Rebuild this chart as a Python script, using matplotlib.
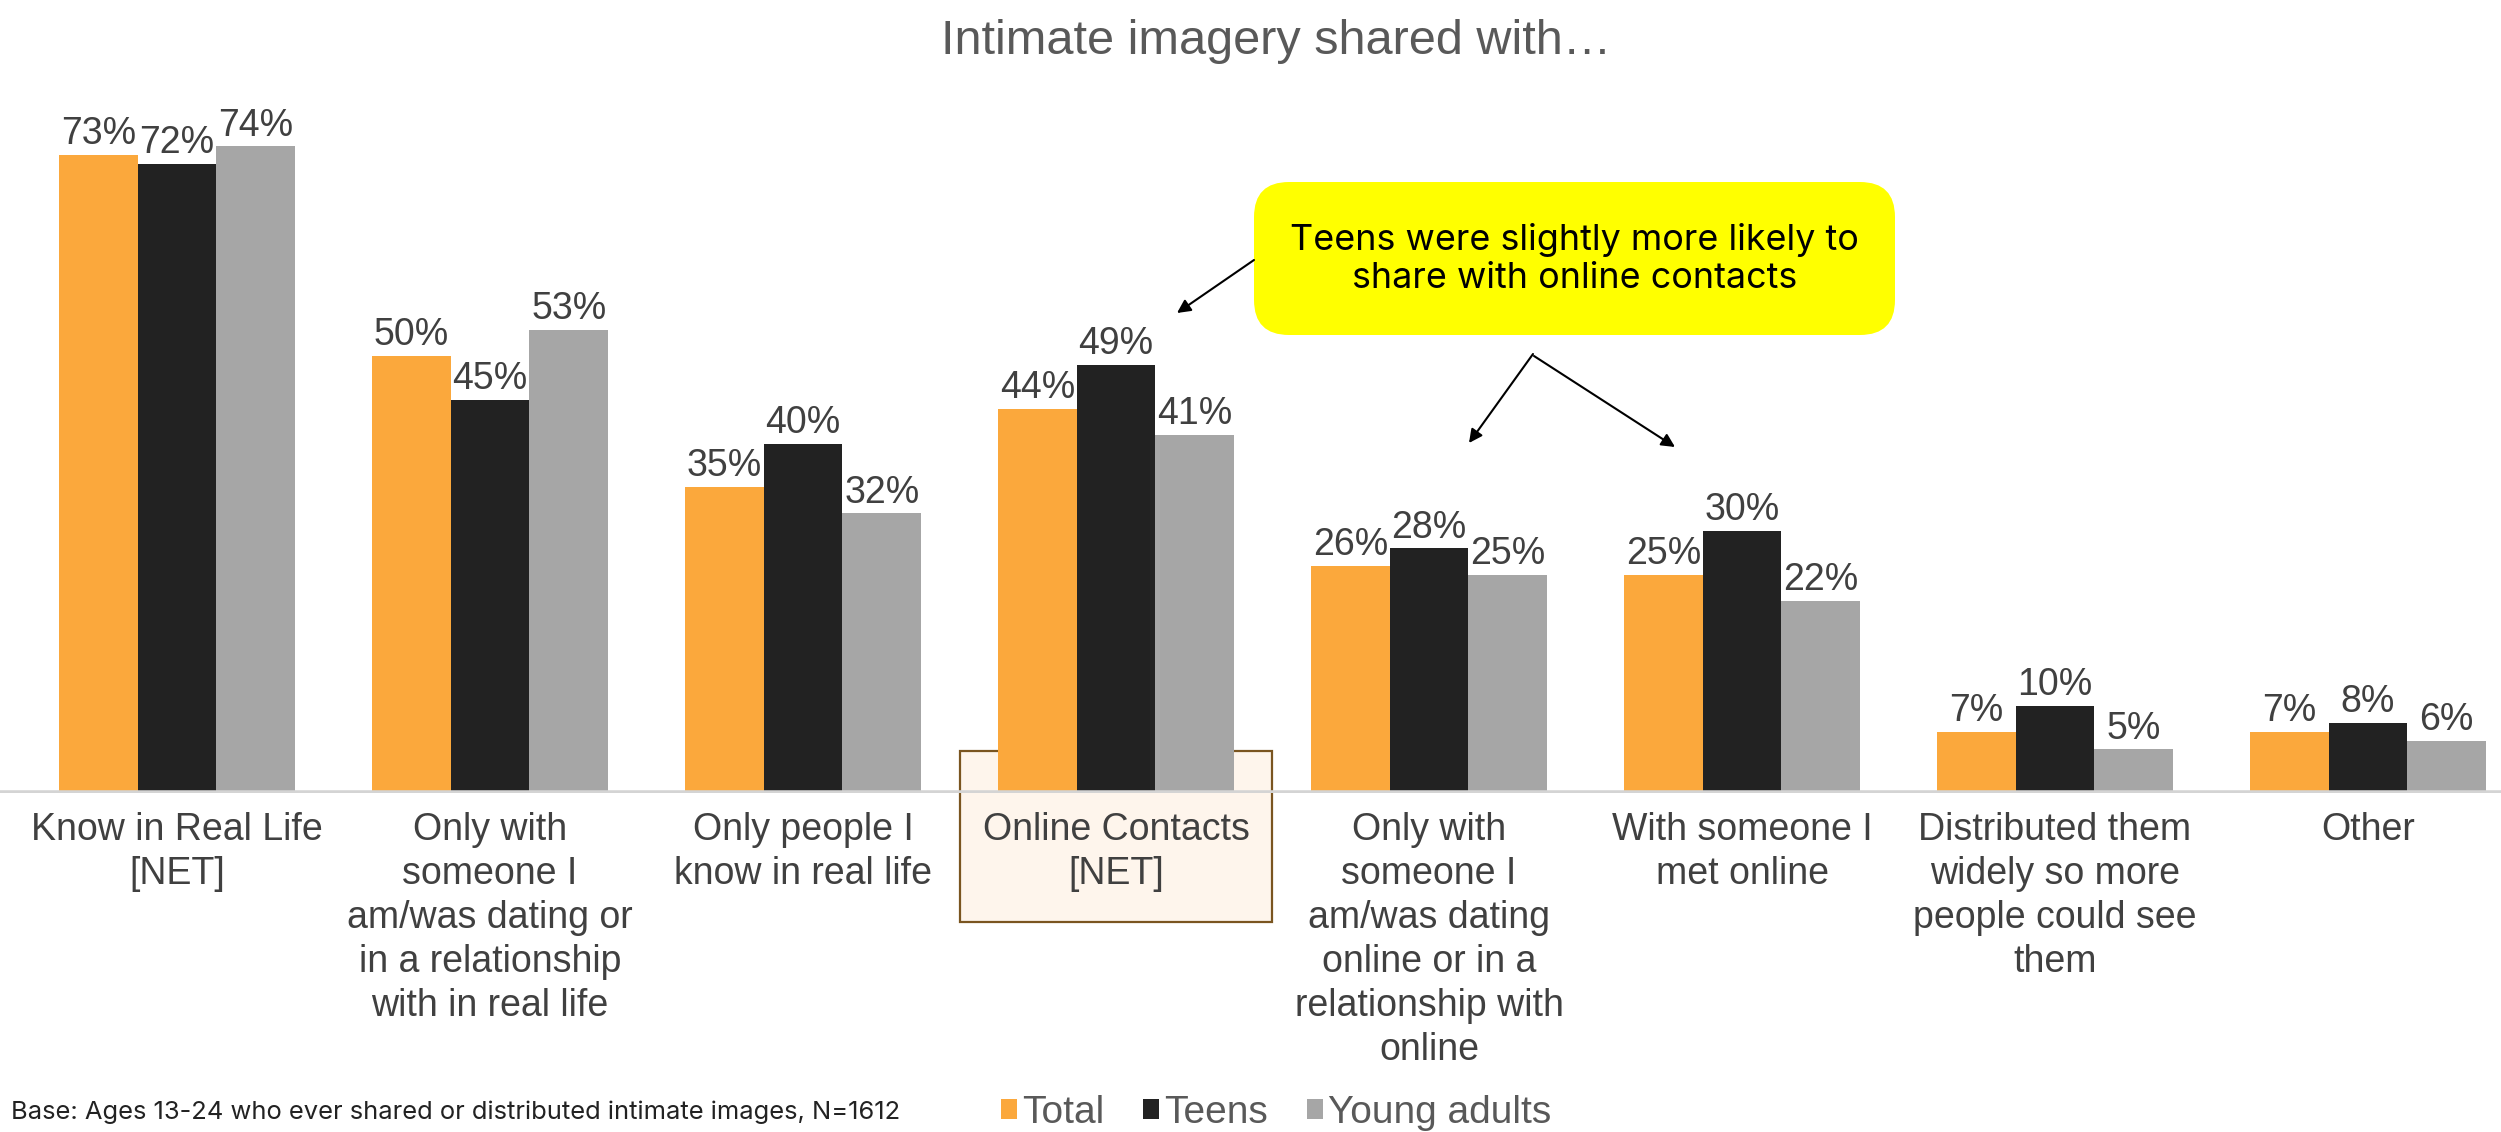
import matplotlib
matplotlib.use("Agg")
import matplotlib.pyplot as plt
import numpy as np
from matplotlib.patches import Rectangle, FancyBboxPatch, FancyArrowPatch

categories = [
    "Know in Real Life\n[NET]",
    "Only with\nsomeone I\nam/was dating or\nin a relationship\nwith in real life",
    "Only people I\nknow in real life",
    "Online Contacts\n[NET]",
    "Only with\nsomeone I\nam/was dating\nonline or in a\nrelationship with\nonline",
    "With someone I\nmet online",
    "Distributed them\nwidely so more\npeople could see\nthem",
    "Other",
]
series_names = ["Total", "Teens", "Young adults"]
total = [73, 50, 35, 44, 26, 25, 7, 7]
teens = [72, 45, 40, 49, 28, 30, 10, 8]
young_adults = [74, 53, 32, 41, 25, 22, 5, 6]
colors = ["#FBA83C", "#222222", "#A6A6A6"]

title = "Intimate imagery shared with…"
note = "Teens were slightly more likely to\nshare with online contacts"
footnote = "Base: Ages 13-24 who ever shared or distributed intimate images, N=1612"

plt.rcParams['font.family'] = ['Liberation Sans', 'DejaVu Sans']

W, H = 2501, 1132
fig = plt.figure(figsize=(W / 100, H / 100), dpi=100)
ax = fig.add_axes([0, 339 / H, 1, 699 / H])

x = np.arange(len(categories))
bw = 0.2515
data = [total, teens, young_adults]
for i, (vals, col, name) in enumerate(zip(data, colors, series_names)):
    bars = ax.bar(x + (i - 1) * bw, [v / 100 for v in vals], width=bw, color=col,
                  label=name, zorder=2)
    ax.bar_label(bars, labels=[f"{v}%" for v in vals], padding=2,
                 fontsize=27, color="#404040", zorder=4)

ax.set_ylim(0, 0.80)
ax.set_xlim(-177 / 313, -177 / 313 + W / 313)
ax.axhline(0, color="#D4D4D4", lw=4, zorder=3)
for s in ax.spines.values():
    s.set_visible(False)
ax.set_yticks([])
ax.set_xticks(x)
ax.set_xticklabels(categories, fontsize=27, color="#404040", linespacing=1.28)
ax.tick_params(axis="x", length=0, pad=14)

# highlight box around Online Contacts label
ax.add_patch(Rectangle((2.503, -0.148), 0.994, 0.196, facecolor="#FEF5EC",
                       edgecolor="#7A5520", lw=1.6, clip_on=False, zorder=0.5))

fig.text(1276 / W, 1 - 41 / H, title, ha="center", va="center", fontsize=35,
         color="#595959")

# callout
tr = fig.dpi_scale_trans
fig.add_artist(FancyBboxPatch((12.54, 7.97), 6.41, 1.53,
                              boxstyle="round,pad=0,rounding_size=0.35",
                              transform=tr, facecolor="#FFFF00", edgecolor="none"))
fig.text(15.745, 8.73, note, transform=tr, ha="center", va="center",
         fontsize=25.8, family=["Inter", "DejaVu Sans"], color="black",
         linespacing=1.2)
for (a, b) in [((12.54, 8.72), (11.77, 8.19)),
               ((15.33, 7.78), (14.69, 6.89)),
               ((15.34, 7.76), (16.75, 6.85))]:
    fig.add_artist(FancyArrowPatch(a, b, transform=tr, arrowstyle="-|>",
                                   mutation_scale=20, lw=1.5, color="black",
                                   shrinkA=0, shrinkB=0))

fig.text(11 / W, 20 / H, footnote, ha="left", va="center", fontsize=18.4,
         family=["Inter", "DejaVu Sans"], color="#222222")

fig.legend(loc="center", bbox_to_anchor=(1276 / W, 19 / H), ncol=3, frameon=False,
           fontsize=28, labelcolor="#595959", handlelength=0.42, handleheight=0.42,
           handletextpad=0.12, columnspacing=1.0, borderaxespad=0)

fig.savefig("out.png", dpi=100)
